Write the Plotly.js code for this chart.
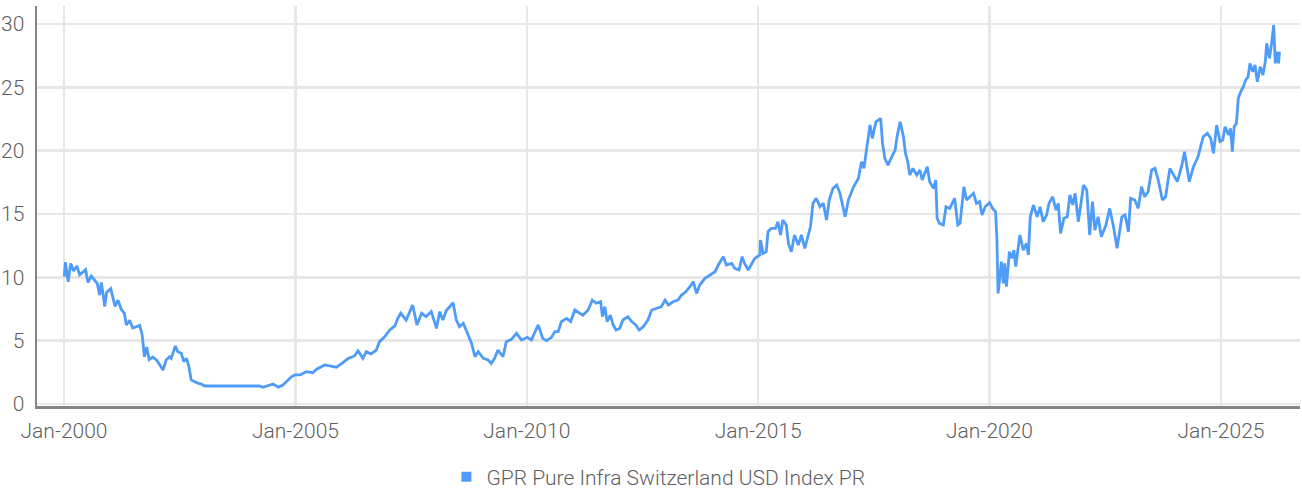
<!DOCTYPE html>
<html>
<head>
<meta charset="utf-8">
<script src="https://cdn.plot.ly/plotly-3.0.1.min.js"></script>
<style>
html,body{margin:0;padding:0;background:#fff;}
#chart{width:1302px;height:491px;}
</style>
</head>
<body>
<div id="chart"></div>
<script>
const seriesName = "GPR Pure Infra Switzerland USD Index PR";

const dates = [
"2000-01-03","2000-01-12","2000-02-03","2000-02-23","2000-03-17","2000-04-12","2000-05-03","2000-06-20","2000-07-08","2000-08-03",
"2000-08-28","2000-09-20","2000-10-08","2000-10-22","2000-11-18","2000-12-02","2001-01-04","2001-02-07","2001-03-02","2001-03-27",
"2001-04-22","2001-05-07","2001-06-02","2001-06-27","2001-08-21","2001-09-09","2001-09-27","2001-10-15","2001-11-03","2001-12-02",
"2002-01-02","2002-01-26","2002-02-21","2002-03-17","2002-04-14","2002-04-26","2002-05-29","2002-06-17","2002-07-15","2002-08-03",
"2002-08-25","2002-09-13","2002-10-01","2002-10-29","2002-11-25","2002-12-20","2003-01-15","2004-03-24","2004-04-19","2004-07-08",
"2004-08-18","2004-09-24","2004-11-03","2004-12-02","2004-12-28","2005-02-07","2005-03-27","2005-05-18","2005-06-17","2005-08-21",
"2005-09-27","2005-11-21","2006-01-03","2006-02-21","2006-04-12","2006-05-10","2006-06-17","2006-07-15","2006-08-21","2006-10-01",
"2006-10-26","2006-12-06","2007-01-15","2007-02-25","2007-03-20","2007-04-12","2007-05-25","2007-07-15","2007-08-18","2007-09-24",
"2007-10-29","2007-12-09","2008-01-19","2008-02-14","2008-03-09","2008-04-08","2008-05-03","2008-05-29","2008-06-24","2008-07-19",
"2008-08-18","2008-09-13","2008-10-22","2008-11-18","2008-12-13","2009-01-23","2009-03-02","2009-03-27","2009-04-22","2009-05-18",
"2009-06-27","2009-07-23","2009-09-02","2009-10-12","2009-11-21","2010-01-04","2010-02-07","2010-03-02","2010-04-01","2010-05-07",
"2010-06-06","2010-07-15","2010-08-11","2010-09-06","2010-10-01","2010-11-11","2010-12-13","2011-01-15","2011-02-18","2011-03-20",
"2011-04-30","2011-06-02","2011-07-04","2011-08-07","2011-08-21","2011-09-09","2011-09-27","2011-10-22","2011-11-14","2011-12-06",
"2012-01-04","2012-01-30","2012-03-09","2012-04-08","2012-05-10","2012-06-06","2012-07-08","2012-08-14","2012-09-13","2012-10-22",
"2012-11-28","2012-12-27","2013-01-23","2013-02-28","2013-04-08","2013-05-07","2013-06-09","2013-07-12","2013-08-07","2013-09-02",
"2013-09-27","2013-11-07","2013-12-17","2014-01-26","2014-02-21","2014-04-01","2014-04-26","2014-06-06","2014-07-01","2014-08-03",
"2014-08-28","2014-09-16","2014-10-15","2014-11-11","2014-12-06","2015-01-15","2015-01-19","2015-02-10","2015-03-06","2015-03-20",
"2015-04-15","2015-05-18","2015-06-06","2015-06-27","2015-07-15","2015-08-11","2015-08-28","2015-09-20","2015-10-15","2015-11-14",
"2015-12-09","2016-01-04","2016-01-30","2016-02-18","2016-03-09","2016-04-04","2016-05-03","2016-05-29","2016-06-24","2016-07-15",
"2016-08-14","2016-09-13","2016-10-08","2016-11-18","2016-12-13","2017-01-23","2017-03-02","2017-03-27","2017-04-15","2017-05-07",
"2017-06-02","2017-06-20","2017-07-19","2017-08-25","2017-09-09","2017-09-27","2017-10-22","2017-11-21","2017-12-17","2018-01-04",
"2018-01-26","2018-02-21","2018-03-09","2018-03-27","2018-04-12","2018-05-07","2018-06-06","2018-07-01","2018-07-19","2018-08-18",
"2018-08-28","2018-09-16","2018-10-15","2018-11-03","2018-11-14","2018-12-02","2019-01-02","2019-01-23","2019-02-21","2019-04-01",
"2019-04-26","2019-05-14","2019-06-13","2019-07-04","2019-07-30","2019-08-28","2019-09-20","2019-10-15","2019-11-03","2019-11-28",
"2020-01-02","2020-01-26","2020-02-18","2020-02-28","2020-03-09","2020-03-20","2020-04-04","2020-04-19","2020-04-30","2020-05-14",
"2020-06-06","2020-06-24","2020-07-12","2020-07-26","2020-08-14","2020-08-28","2020-09-24","2020-10-19","2020-11-03","2020-11-18",
"2020-12-13","2021-01-12","2021-02-03","2021-02-28","2021-03-27","2021-04-15","2021-05-14","2021-06-09","2021-06-27","2021-07-15",
"2021-08-11","2021-09-06","2021-09-27","2021-10-19","2021-11-07","2021-12-02","2021-12-27","2022-01-12","2022-02-07","2022-03-02",
"2022-03-24","2022-04-12","2022-05-07","2022-06-02","2022-07-08","2022-08-07","2022-09-06","2022-10-04","2022-11-11","2022-12-06",
"2023-01-02","2023-01-19","2023-02-21","2023-03-20","2023-04-15","2023-05-10","2023-06-06","2023-07-04","2023-07-30","2023-08-25",
"2023-09-27","2023-10-22","2023-11-25","2023-12-20","2024-01-23","2024-02-25","2024-03-20","2024-04-26","2024-05-29","2024-07-04",
"2024-08-14","2024-09-16","2024-10-12","2024-11-03","2024-11-28","2024-12-24","2025-01-15","2025-02-03","2025-03-02","2025-03-17",
"2025-04-01","2025-04-15","2025-05-03","2025-05-18","2025-06-06","2025-06-27","2025-07-15","2025-08-03","2025-08-18","2025-09-09",
"2025-09-27","2025-10-15","2025-11-07","2025-11-28","2025-12-17","2025-12-28","2026-01-19","2026-02-03","2026-02-21","2026-03-06",
"2026-03-20","2026-04-01","2026-04-08"
];

const values = [
10.05,11.2,9.65,11.1,10.5,10.9,10.2,10.6,9.6,10.1,
9.8,9.5,8.6,9.6,7.7,8.8,9.1,7.7,8.2,7.5,
7.15,6.23,6.6,6.0,6.2,5.45,3.73,4.5,3.5,3.7,
3.45,3.08,2.68,3.47,3.73,3.6,4.58,4.13,4.0,3.34,
3.6,2.95,1.9,1.76,1.63,1.58,1.42,1.42,1.32,1.58,
1.32,1.5,1.9,2.16,2.29,2.29,2.55,2.47,2.74,3.08,
3.0,2.9,3.2,3.6,3.79,4.2,3.6,4.13,3.95,4.26,
4.92,5.31,5.84,6.16,6.76,7.16,6.63,7.81,6.24,7.16,
6.89,7.29,5.97,7.29,6.63,7.42,7.68,8.0,6.63,6.1,
6.37,5.71,4.79,3.73,4.13,3.6,3.47,3.2,3.6,4.26,
3.73,4.92,5.1,5.58,5.05,5.26,5.05,5.58,6.24,5.18,
5.0,5.26,5.71,5.71,6.5,6.76,6.5,7.42,7.16,7.0,
7.42,8.2,7.95,8.07,6.89,7.68,6.5,7.02,6.24,5.84,
5.97,6.63,6.89,6.5,6.24,5.84,6.1,6.63,7.42,7.55,
7.68,8.2,7.81,8.07,8.2,8.6,8.86,9.26,9.65,8.73,
9.39,9.92,10.18,10.44,10.97,11.63,10.97,11.1,10.7,10.58,
11.63,11.1,10.58,11.1,11.5,11.76,12.94,11.89,12.02,13.6,
13.87,13.87,14.39,13.34,14.52,14.13,12.68,12.02,13.34,12.55,
13.34,12.29,13.34,13.99,15.84,16.24,15.57,15.84,14.52,16.1,
17.02,17.28,16.63,14.78,16.1,17.15,17.81,19.12,18.6,20.31,
22.02,20.97,22.28,22.55,20.57,19.39,18.86,19.52,20.05,21.23,
22.28,21.1,19.79,19.12,18.07,18.6,18.07,18.47,17.68,18.47,
18.73,17.55,17.02,17.68,14.66,14.26,14.13,15.57,15.44,16.24,
14.13,14.26,17.15,16.1,16.36,16.63,15.84,15.97,14.92,15.57,
15.89,15.44,15.18,13.2,8.73,10.05,11.23,9.52,11.1,9.26,
12.02,11.5,12.15,10.84,12.42,13.34,12.15,12.68,11.76,14.78,
15.71,14.78,15.57,14.39,14.92,15.84,16.36,15.31,15.84,13.47,
14.66,14.78,16.5,15.71,16.63,14.39,16.1,17.28,16.89,13.34,
15.97,13.73,14.78,13.2,14.13,15.44,13.99,12.29,14.78,14.92,
13.6,16.24,16.1,15.44,17.15,16.36,16.76,18.47,18.6,17.68,
16.1,16.36,18.6,18.2,17.55,18.73,19.92,17.55,18.73,19.52,
21.1,21.37,20.97,19.79,22.02,20.71,20.84,21.89,21.23,21.76,
19.92,21.89,22.15,24.13,24.65,25.05,25.57,25.84,26.89,26.23,
26.76,25.44,26.63,25.97,27.02,28.47,27.29,28.34,29.91,26.89,
27.81,26.89,27.81
];

const xTickVals = ["2000-01-01","2005-01-01","2010-01-01","2015-01-01","2020-01-01","2025-01-01"];
const xTickText = ["Jan-2000","Jan-2005","Jan-2010","Jan-2015","Jan-2020","Jan-2025"];
const yTickVals = [0,5,10,15,20,25,30];

const lineColor = "#4e9cf7";
const textColor = "#5f5f5f";
const fontFam = "Roboto, 'Open Sans', sans-serif";

const traces = [
  {
    x: dates, y: values, type: "scatter", mode: "lines",
    line: {color: lineColor, width: 2.8},
    showlegend: false, hoverinfo: "skip"
  },
  {
    x: [null], y: [null], type: "scatter", mode: "markers",
    name: seriesName,
    marker: {symbol: "square", color: lineColor, size: 10},
    showlegend: true, hoverinfo: "skip"
  }
];

const layout = {
  width: 1302, height: 491,
  margin: {l: 37, r: 2, t: 6, b: 85, pad: 0, autoexpand: false},
  paper_bgcolor: "#ffffff", plot_bgcolor: "#ffffff",
  font: {family: fontFam, size: 21, color: textColor, weight: 300},
  xaxis: {
    type: "date",
    range: ["1999-06-02", "2026-09-17"],
    tickmode: "array", tickvals: xTickVals, ticktext: xTickText,
    showgrid: true, gridcolor: "#e7e7e7", gridwidth: 2.5,
    showline: true, linecolor: "#858585", linewidth: 2.5,
    ticks: "outside", ticklen: 4, tickcolor: "rgba(0,0,0,0)",
    zeroline: false, automargin: false,
    tickfont: {family: fontFam, size: 21, color: textColor, weight: 300}
  },
  yaxis: {
    range: [-0.16, 31.42],
    tickmode: "array", tickvals: yTickVals,
    showgrid: true, gridcolor: "#e7e7e7", gridwidth: 2.5,
    showline: true, linecolor: "#858585", linewidth: 2.5,
    ticks: "outside", ticklen: 6, tickcolor: "rgba(0,0,0,0)",
    zeroline: false, automargin: false,
    tickfont: {family: fontFam, size: 21, color: textColor, weight: 300}
  },
  legend: {
    orientation: "h", x: 0.492, xanchor: "center", y: -0.178, yanchor: "middle",
    font: {family: fontFam, size: 21, color: textColor, weight: 300},
    itemwidth: 30, tracegroupgap: 0
  },
  hovermode: false
};

Plotly.newPlot("chart", traces, layout, {displayModeBar: false, staticPlot: true});
</script>
</body>
</html>
